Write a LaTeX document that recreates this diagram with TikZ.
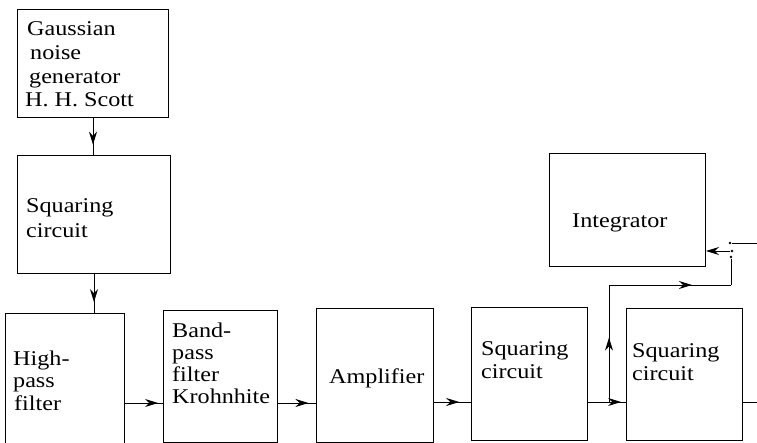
\documentclass[tikz,border=0pt]{standalone}
\usepackage{fontspec}
\setmainfont{Liberation Serif}
\usetikzlibrary{decorations.markings,arrows.meta}
\newcommand\sx[1]{\scalebox{1.15}[1]{#1}}
\tikzset{
  box/.style={draw, line width=1pt, anchor=north west, inner sep=0pt},
  lbl/.style={anchor=base west, align=left, inner sep=0pt, font=\fontsize{21}{23}\selectfont},
  conn/.style={line width=0.9pt},
  tip/.style={-{Stealth[length=13pt,width=8pt]}},
  midarrow/.style={conn, postaction={decorate}, decoration={markings, mark=at position #1 with {\arrow{Stealth[length=13pt,width=8pt]}}}},
  contact/.style={circle, fill, inner sep=0pt, minimum size=2.8pt},
}
\begin{document}
\begin{tikzpicture}[x=1pt,y=-1pt]
\useasboundingbox (0,0) rectangle (757,443);
\clip (0,0) rectangle (757,443);
% boxes
\node[box, minimum width=151pt, minimum height=108pt] (gbox) at (17,9) {};
\node[box, minimum width=153pt, minimum height=118pt] (s1box) at (17,155) {};
\node[box, minimum width=119pt, minimum height=150pt] (hpbox) at (5,313) {};
\node[box, minimum width=114pt, minimum height=132pt] (bpbox) at (163,310) {};
\node[box, minimum width=117pt, minimum height=134pt] (ampbox) at (316,308) {};
\node[box, minimum width=116pt, minimum height=133pt] (s2box) at (471,307) {};
\node[box, minimum width=116pt, minimum height=132pt] (s3box) at (626,308) {};
\node[box, minimum width=156pt, minimum height=113pt] (intbox) at (549,153) {};
% texts (anchored at the baseline of the last line)
\node[lbl, font=\fontsize{21}{23.7}\selectfont] (gt) at (25,107) {\hspace{2pt}\sx{Gaussian}\\\hspace{5pt}\sx{noise}\\\hspace{4pt}\sx{generator}\\\sx{H. H. Scott}};
\node[lbl, font=\fontsize{21}{25}\selectfont] (s1t) at (26,238) {\sx{Squaring}\\\sx{circuit}};
\node[lbl, font=\fontsize{21}{22.5}\selectfont] (hpt) at (13,410) {\sx{High-}\\\sx{pass}\\\hspace{1pt}\sx{filter}};
\node[lbl, font=\fontsize{21}{21.7}\selectfont] (bpt) at (172,403) {\sx{Band-}\\\sx{pass}\\\sx{filter}\\\sx{Krohnhite}};
\node[lbl] (ampt) at (329,383) {\sx{Amplifier}};
\node[lbl] (s2t) at (481,378) {\sx{Squaring}\\\sx{circuit}};
\node[lbl] (s3t) at (632,380) {\sx{Squaring}\\\sx{circuit}};
\node[lbl] (intt) at (572,228) {\sx{Integrator}};
% coordinates
\coordinate (rowa) at (0,403);
\coordinate (rowb) at (0,402);
\coordinate (br) at (609,402);
\coordinate (sw1) at (731,285);
\coordinate (inR) at (757,243);
\coordinate (outR) at (757,402);
\node[contact] (sw2) at (731,257) {};
\node[contact] (sw3) at (732,251) {};
\node[contact] (sw4) at (730,243) {};
% connectors
\draw[midarrow=0.72] (gbox.south) -- (gbox.south |- s1box.north);
\draw[midarrow=0.72] (s1box.south) -- (s1box.south |- hpbox.north);
\draw[midarrow=0.87] (hpbox.east |- rowa) -- (bpbox.west |- rowa);
\draw[midarrow=0.8] (bpbox.east |- rowa) -- (ampbox.west |- rowa);
\draw[midarrow=0.68] (ampbox.east |- rowb) -- (s2box.west |- rowb);
\draw[midarrow=0.87] (s2box.east |- rowb) -- (s3box.west |- rowb);
\draw[midarrow=0.55] (br) -- (br |- sw1);
\draw[midarrow=0.68] (br |- sw1) -- (sw1);
\draw[conn] (sw1) -- (sw2);
\draw[conn, tip] (sw3) -- (intbox.east |- sw3);
\draw[conn] (sw4) -- (inR);
\draw[conn] (s3box.east |- rowb) -- (outR);
\end{tikzpicture}
\end{document}
